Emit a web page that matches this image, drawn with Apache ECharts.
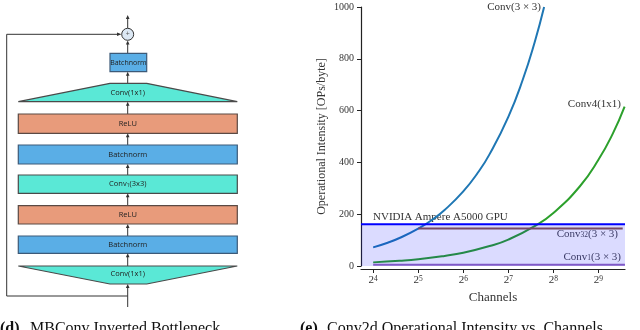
<!DOCTYPE html>
<html>
<head>
<meta charset="utf-8">
<script src="https://cdn.jsdelivr.net/npm/echarts@6/dist/echarts.min.js"></script>
<style>
html, body { margin: 0; padding: 0; background: #fff; }
#chartBox { width: 640px; height: 330px; }
</style>
</head>
<body>
<div id="chartBox"></div>
<script>
// Conv(3x3) curve
const conv3Channels = [16, 20, 24, 32, 40, 48, 64, 80, 96, 128, 160, 192, 222]
const conv3Values = [72, 90, 108, 144, 180, 216, 288, 360, 432, 576, 720, 864, 1000]
// Conv4(1x1) curve
const conv4Channels = [16, 24, 32, 48, 64, 96, 128, 192, 256, 384, 512, 640, 766]
const conv4Values = [14, 20, 26, 39, 51, 77, 102, 154, 205, 307, 410, 512, 615]
// flat levels
const gpuPeak = 161
const conv32Level = 145
const conv32Channels = [32, 744]
const conv1Level = 5
const conv1Channels = [16, 770]
// x axis in log2(channels)
const xRange = [3.73, 9.59]
const xTickExps = [4, 5, 6, 7, 8, 9]

const serif = '"Liberation Serif", "DejaVu Serif", serif'
const sans = '"Open Sans", "Noto Sans", sans-serif'
const ink = '#333'

const pts = (cs, vs) => cs.map((c, i) => [Math.log2(c), vs[i]])
const flat = (cs, v) => cs.map(c => [Math.log2(c), v])

// --- left diagram helpers (drawing only, no data) ---
function box(y1, y2, fill, stroke, label, x1 = 18.3, x2 = 237.3, fs = 7.5) {
  return [
    { type: 'rect', shape: { x: x1, y: y1, width: x2 - x1, height: y2 - y1 },
      style: { fill: fill, stroke: stroke, lineWidth: 1.2 } },
    { type: 'text', x: (x1 + x2) / 2, y: (y1 + y2) / 2,
      style: { text: label, fill: '#222', fontSize: fs, fontFamily: sans, align: 'center', verticalAlign: 'middle',
        rich: { s: { fontSize: 5, verticalAlign: 'bottom', lineHeight: 6, fill: '#222', fontFamily: sans } } } }
  ]
}
function arrowUp(x, yFrom, yTo) {
  return [
    { type: 'line', shape: { x1: x, y1: yFrom, x2: x, y2: yTo + 3 }, style: { stroke: ink, lineWidth: 1 } },
    { type: 'polygon', shape: { points: [[x - 1.8, yTo + 4], [x + 1.8, yTo + 4], [x, yTo]] }, style: { fill: ink } }
  ]
}

const cx = 127.7
const blue = '#5aaee6', blueEdge = '#3c5a78'
const teal = '#5ae8d6', tealEdge = '#4a4a4a'
const salmon = '#e89b7b', salmonEdge = '#5a4a44'

let diagram = []
diagram.push(...arrowUp(cx, 28, 15))
diagram.push({ type: 'circle', shape: { cx: cx, cy: 34.3, r: 6 }, style: { fill: '#dce8f4', stroke: '#333', lineWidth: 1 } })
diagram.push({ type: 'text', x: cx, y: 34.3, style: { text: '+', fill: '#555', fontSize: 7, fontFamily: sans, align: 'center', verticalAlign: 'middle' } })
diagram.push({ type: 'polyline', shape: { points: [[cx, 296], [6.7, 296], [6.7, 34.3], [118, 34.3]] }, style: { stroke: ink, lineWidth: 1, fill: null } })
diagram.push({ type: 'polygon', shape: { points: [[117, 32.5], [117, 36.1], [121.5, 34.3]] }, style: { fill: ink } })
diagram.push(...arrowUp(cx, 53.3, 40.5))
diagram.push(...box(53.3, 71.7, blue, blueEdge, 'Batchnorm', 110, 146.7, 7))
diagram.push(...arrowUp(cx, 83.3, 71.7))
diagram.push({ type: 'polygon', shape: { points: [[110, 83.3], [146.7, 83.3], [237.3, 101.7], [18.3, 101.7]] }, style: { fill: teal, stroke: tealEdge, lineWidth: 1.2, lineJoin: 'bevel' } })
diagram.push({ type: 'text', x: cx, y: 93, style: { text: 'Conv(1x1)', fill: '#222', fontSize: 7.5, fontFamily: sans, align: 'center', verticalAlign: 'middle' } })
diagram.push(...arrowUp(cx, 114, 101.7))
diagram.push(...box(114, 133.3, salmon, salmonEdge, 'ReLU'))
diagram.push(...arrowUp(cx, 145, 133.3))
diagram.push(...box(145, 164, blue, blueEdge, 'Batchnorm'))
diagram.push(...arrowUp(cx, 175, 164))
diagram.push(...box(175, 193.3, teal, tealEdge, 'Conv{s|1}(3x3)'))
diagram.push(...arrowUp(cx, 205.7, 193.3))
diagram.push(...box(205.7, 224, salmon, salmonEdge, 'ReLU'))
diagram.push(...arrowUp(cx, 236, 224))
diagram.push(...box(236, 253.3, blue, blueEdge, 'Batchnorm'))
diagram.push(...arrowUp(cx, 266, 253.3))
diagram.push({ type: 'polygon', shape: { points: [[18.3, 266], [237.3, 266], [146.7, 284], [110, 284]] }, style: { fill: teal, stroke: tealEdge, lineWidth: 1.2, lineJoin: 'bevel' } })
diagram.push({ type: 'text', x: cx, y: 274, style: { text: 'Conv(1x1)', fill: '#222', fontSize: 7.5, fontFamily: sans, align: 'center', verticalAlign: 'middle' } })
diagram.push(...arrowUp(cx, 307, 284))

// captions (cut by the bottom edge, as in the reference)
const capStyle = (t, bold) => ({ text: t, fill: '#111', fontSize: 16, fontWeight: bold ? 'bold' : 'normal', fontFamily: serif, verticalAlign: 'top' })
const captions = [
  { type: 'text', x: 0, y: 321, style: capStyle('(d)', true) },
  { type: 'text', x: 30, y: 321, style: capStyle('MBConv Inverted Bottleneck', false) },
  { type: 'text', x: 300, y: 321, style: capStyle('(e)', true) },
  { type: 'text', x: 327, y: 321, style: capStyle('Conv2d Operational Intensity vs. Channels', false) }
]

// chart annotations
const subRich = { s: { fontSize: 7.5, verticalAlign: 'bottom', lineHeight: 8, fill: '#3a3a66', fontFamily: serif } }
const note = (x, y, t, align, fill, z) => ({
  type: 'text', x: x, y: y, z: z,
  style: { text: t, fill: fill, fontSize: 11, fontFamily: serif, align: align, verticalAlign: 'middle', rich: subRich }
})
const notes = [
  note(541, 7, 'Conv(3 × 3)', 'right', ink, 50),
  note(621, 104, 'Conv4(1x1)', 'right', ink, 50),
  note(373, 217, 'NVIDIA Ampere A5000 GPU', 'left', ink, 1),
  note(618, 234, 'Conv{s|32}(3 × 3)', 'right', '#3a3a66', 50),
  note(621, 257, 'Conv{s|1}(3 × 3)', 'right', '#3a3a66', 50)
]

let myChart = echarts.init(document.getElementById('chartBox'))
myChart.setOption({
  animation: false,
  grid: { left: 361, right: 15, top: 7, bottom: 64, containLabel: false },
  xAxis: {
    type: 'value',
    min: xRange[0],
    max: xRange[1],
    offset: 3,
    name: 'Channels',
    nameLocation: 'middle',
    nameGap: 22,
    nameTextStyle: { fontFamily: serif, fontSize: 13, color: ink },
    splitLine: { show: false },
    axisLine: { onZero: false, lineStyle: { color: '#222', width: 1.2 } },
    axisTick: { customValues: xTickExps, length: 4, lineStyle: { color: '#222' } },
    axisLabel: {
      customValues: xTickExps,
      margin: 6,
      formatter: v => '2{p|' + v + '}',
      fontFamily: serif,
      fontSize: 11,
      color: ink,
      rich: { p: { fontSize: 7.5, verticalAlign: 'top', lineHeight: 8, fontFamily: serif, color: ink } }
    }
  },
  yAxis: {
    type: 'value',
    min: 0,
    max: 1000,
    interval: 200,
    name: 'Operational Intensity [OPs/byte]',
    nameLocation: 'middle',
    nameGap: 33,
    nameTextStyle: { fontFamily: serif, fontSize: 12, color: ink },
    splitLine: { show: false },
    axisLine: { show: true, lineStyle: { color: '#222', width: 1.2 } },
    axisTick: { show: true, length: 4, lineStyle: { color: '#222' } },
    axisLabel: { fontFamily: serif, fontSize: 10, color: ink, margin: 7, formatter: v => String(v) }
  },
  series: [
    {
      name: 'Conv(3x3)', type: 'line', smooth: true, showSymbol: false,
      data: pts(conv3Channels, conv3Values),
      lineStyle: { color: '#1f77b4', width: 2 }
    },
    {
      name: 'Conv4(1x1)', type: 'line', smooth: true, showSymbol: false,
      data: pts(conv4Channels, conv4Values),
      lineStyle: { color: '#2ca02c', width: 2 }
    },
    {
      name: 'Conv32(3x3)', type: 'line', showSymbol: false,
      data: flat(conv32Channels, conv32Level),
      lineStyle: { color: '#8c564b', width: 2 }
    },
    {
      name: 'Conv1(3x3)', type: 'line', showSymbol: false,
      data: flat(conv1Channels, conv1Level),
      lineStyle: { color: '#9467bd', width: 2 }
    },
    {
      name: 'A5000', type: 'line', showSymbol: false, z: 5,
      data: xRange.map(x => [x, gpuPeak]),
      lineStyle: { color: '#0000ff', width: 2 },
      areaStyle: { color: 'rgba(0,0,255,0.2)' }
    }
  ],
  graphic: [...diagram, ...captions, ...notes]
})
</script>
</body>
</html>
